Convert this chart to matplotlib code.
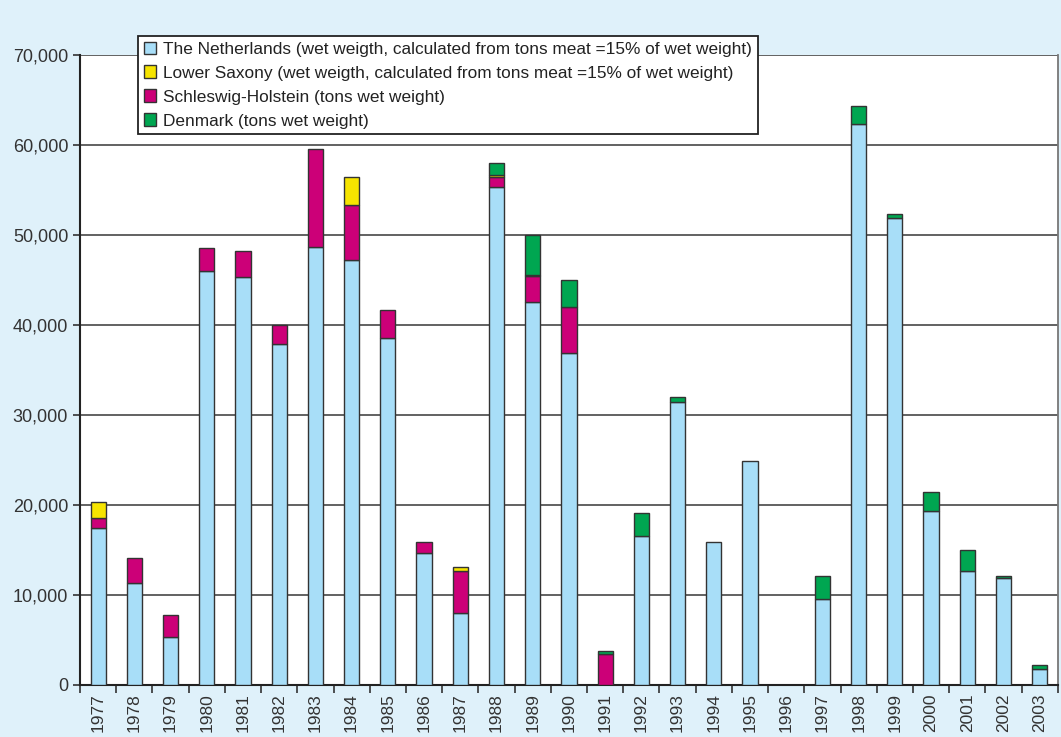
import matplotlib
matplotlib.use("Agg")
import matplotlib.pyplot as plt
from matplotlib.patches import Patch
from matplotlib.ticker import FuncFormatter
import numpy as np

years = [str(y) for y in range(1977, 2004)]

# tons wet weight per year
netherlands = [17400, 11300, 5300, 46000, 45300, 37900, 48700, 47200, 38600, 14700,
               8000, 55300, 42600, 36900, 0, 16600, 31400, 15900, 24900, 0,
               9500, 62300, 51900, 19300, 12700, 11900, 1800]
schleswig = [1200, 2800, 2500, 2500, 2900, 2100, 10800, 6100, 3100, 1200,
             4700, 1100, 2800, 5100, 3400, 0, 0, 0, 0, 0,
             0, 0, 0, 0, 0, 0, 0]
lower_saxony = [1700, 0, 0, 0, 0, 0, 0, 3100, 0, 0,
                400, 300, 200, 0, 0, 0, 0, 0, 0, 0,
                0, 0, 0, 0, 0, 0, 0]
denmark = [0, 0, 0, 0, 0, 0, 0, 0, 0, 0,
           0, 1300, 4400, 3000, 350, 2500, 600, 0, 0, 0,
           2600, 2000, 400, 2100, 2300, 200, 450]

labels = [
    "The Netherlands (wet weigth, calculated from tons meat =15% of wet weight)",
    "Lower Saxony (wet weigth, calculated from tons meat =15% of wet weight)",
    "Schleswig-Holstein (tons wet weight)",
    "Denmark (tons wet weight)",
]
colors = ["#a8def8", "#f6e400", "#cc0078", "#00a651"]

plt.rcParams['font.family'] = ['Liberation Sans', 'DejaVu Sans']

fig = plt.figure(figsize=(10.61, 7.37), dpi=100, facecolor="#dff1fa")
ax = fig.add_axes([0.0754, 0.0706, 0.9216, 0.8548])
ax.set_facecolor("white")

x = np.arange(len(years))
w = 0.42
nl = np.array(netherlands)
sh = np.array(schleswig)
ls = np.array(lower_saxony)
dk = np.array(denmark)

edge = "#333333"
ekw = dict(edgecolor=edge, linewidth=1.0, zorder=3)
b_nl = ax.bar(x, nl, w, color=colors[0], **ekw)
b_sh = ax.bar(x, sh, w, bottom=nl, color=colors[2], **ekw)
b_ls = ax.bar(x, ls, w, bottom=nl + sh, color=colors[1], **ekw)
b_dk = ax.bar(x, dk, w, bottom=nl + sh + ls, color=colors[3], **ekw)
# hide zero-height segments' edges
for bars, vals in [(b_nl, nl), (b_sh, sh), (b_ls, ls), (b_dk, dk)]:
    for b, v in zip(bars, vals):
        if v == 0:
            b.set_visible(False)

ax.set_xlim(-0.5, len(years) - 0.5)
ax.set_ylim(0, 70000)
ax.set_yticks(np.arange(0, 70001, 10000))
ax.yaxis.set_major_formatter(FuncFormatter(lambda v, p: f"{int(v):,}"))
ax.grid(axis="y", color="#555555", linewidth=1.3, zorder=0)
ax.set_axisbelow(True)

ax.set_xticks(np.arange(-0.5, len(years), 1.0))
ax.set_xticklabels([])
ax.tick_params(axis="x", which="major", length=6, width=1.2, direction="out", color="#333333")
ax.set_xticks(x, minor=True)
ax.set_xticklabels(years, minor=True, rotation=90, fontsize=12.5)
ax.tick_params(axis="x", which="minor", length=0, pad=6)
ax.tick_params(axis="y", length=5, width=1.2, labelsize=13, color="#333333")
for t in ax.get_yticklabels():
    t.set_color("#333333")
for t in ax.get_xticklabels(minor=True):
    t.set_color("#333333")

for s in ["left", "bottom"]:
    ax.spines[s].set_color("#222222")
    ax.spines[s].set_linewidth(1.5)
ax.spines["top"].set_visible(False)
ax.spines["right"].set_color("#777777")
ax.spines["right"].set_linewidth(1.3)

handles = [Patch(facecolor=c, edgecolor=edge, linewidth=1.0)
           for c in [colors[0], colors[1], colors[2], colors[3]]]
leg = fig.legend(handles, labels, loc="upper left", bbox_to_anchor=(138 / 1061, 1 - 36 / 737),
                 frameon=True, fancybox=False, fontsize=12.4, handlelength=0.75, handleheight=0.75,
                 handletextpad=0.4, labelspacing=0.5, borderpad=0.32, borderaxespad=0)
leg.get_frame().set_edgecolor("#222222")
leg.get_frame().set_linewidth(1.3)
leg.get_frame().set_alpha(1)
for t in leg.get_texts():
    t.set_color("#222222")

fig.savefig("out.png", dpi=100, facecolor=fig.get_facecolor())
